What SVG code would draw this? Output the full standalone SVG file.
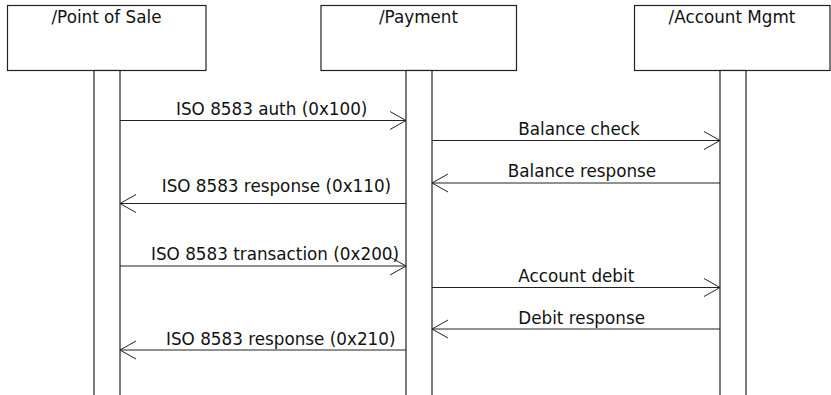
<svg xmlns="http://www.w3.org/2000/svg" width="831" height="395" viewBox="0 0 831 395">
  <style>
    .box { fill: #ffffff; stroke: #222222; stroke-width: 1.2; }
    .bar { fill: #ffffff; stroke: #222222; stroke-width: 1.2; }
    .msg { stroke: #222222; stroke-width: 1; fill: none; marker-end: url(#open); }
    text { font-family: "DejaVu Sans", "Liberation Sans", sans-serif; font-size: 16.8px; fill: #111111; }
    .hdr { text-anchor: middle; }
  </style>
  <defs>
    <marker id="open" markerUnits="userSpaceOnUse" viewBox="-18 -11 20 22" refX="0" refY="0" markerWidth="20" markerHeight="22" orient="auto">
      <path d="M -16 -9 L 0 0 L -16 9" fill="none" stroke="#222222" stroke-width="1"/>
    </marker>
  </defs>
  <rect width="831" height="395" fill="#ffffff"/>

  <g id="pos">
    <rect class="box" x="7.5" y="5.5" width="198.5" height="65"/>
    <text class="hdr" x="106.5" y="23">/Point of Sale</text>
    <rect class="bar" x="94" y="70.5" width="26" height="340"/>
  </g>
  <g id="payment">
    <rect class="box" x="321" y="5.5" width="195.5" height="65"/>
    <text class="hdr" x="418.5" y="23">/Payment</text>
    <rect class="bar" x="406" y="70.5" width="26" height="340"/>
  </g>
  <g id="account">
    <rect class="box" x="634.5" y="5.5" width="195.5" height="65"/>
    <text class="hdr" x="732" y="23">/Account Mgmt</text>
    <rect class="bar" x="720" y="70.5" width="26" height="340"/>
  </g>

  <g id="connectors">
    <line class="msg" x1="120" y1="120.5" x2="406" y2="120.5"/>
    <line class="msg" x1="432" y1="140.5" x2="720" y2="140.5"/>
    <line class="msg" x1="720" y1="183" x2="432" y2="183"/>
    <line class="msg" x1="406" y1="203.5" x2="120" y2="203.5"/>
    <line class="msg" x1="120" y1="266" x2="406" y2="266"/>
    <line class="msg" x1="432" y1="287.5" x2="720" y2="287.5"/>
    <line class="msg" x1="720" y1="329" x2="432" y2="329"/>
    <line class="msg" x1="406" y1="350" x2="120" y2="350"/>
    <text x="176" y="115">ISO 8583 auth (0x100)</text>
    <text x="518.3" y="135">Balance check</text>
    <text x="507.7" y="176.5">Balance response</text>
    <text x="161.7" y="192">ISO 8583 response (0x110)</text>
    <text x="151" y="259.5">ISO 8583 transaction (0x200)</text>
    <text x="518.3" y="282">Account debit</text>
    <text x="518.3" y="323.5">Debit response</text>
    <text x="166" y="344.5">ISO 8583 response (0x210)</text>
  </g>
</svg>
